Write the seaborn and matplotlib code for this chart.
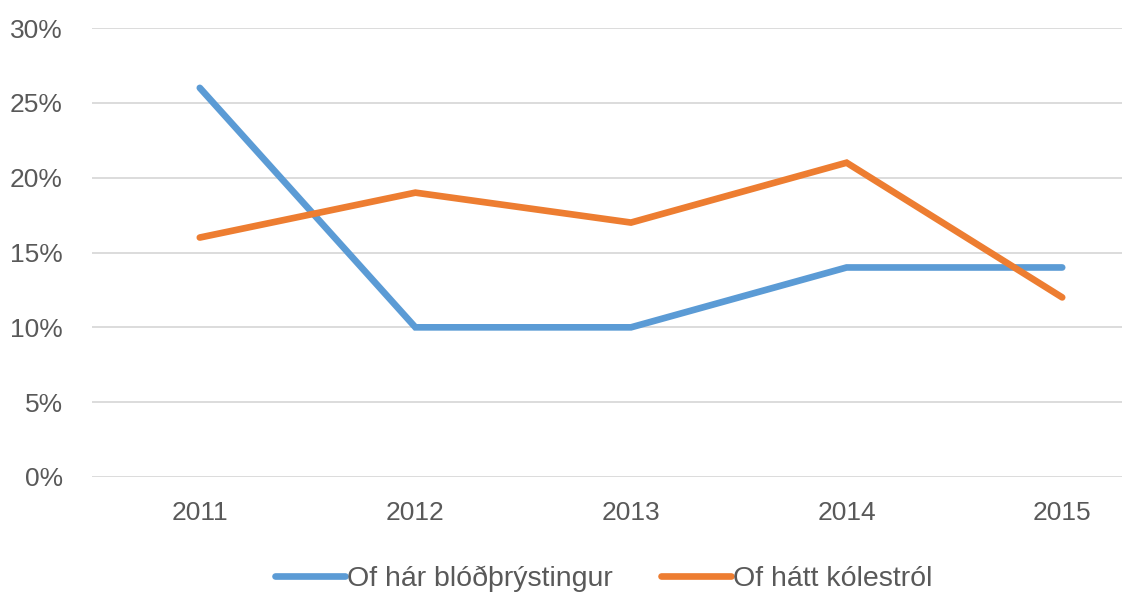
import matplotlib
matplotlib.use("Agg")
import matplotlib.pyplot as plt
import seaborn as sns
import pandas as pd
from matplotlib.ticker import FuncFormatter, MultipleLocator
from matplotlib.lines import Line2D

years = ["2011", "2012", "2013", "2014", "2015"]
blood_pressure = [26, 10, 10, 14, 14]
cholesterol = [16, 19, 17, 21, 12]
series_names = ["Of hár blóðþrýstingur", "Of hátt kólestról"]
colors = ["#5B9BD5", "#ED7D31"]

sns.set_theme(style="white")
plt.rcParams["font.family"] = ["Liberation Sans", "DejaVu Sans"]

rows = []
for name, vals in zip(series_names, [blood_pressure, cholesterol]):
    for i, (y, v) in enumerate(zip(years, vals)):
        rows.append({"idx": i, "year": y, "value": v, "series": name})
df = pd.DataFrame(rows)

fig = plt.figure(figsize=(11.22, 5.96), dpi=100)
ax = fig.add_axes([92 / 1122, 119 / 596, 1078 / 1122, 449 / 596])

sns.lineplot(data=df, x="idx", y="value", hue="series", palette=colors,
             linewidth=4.8, ax=ax, legend=False, sort=False,
             solid_capstyle="round", solid_joinstyle="miter")

ax.set_xlim(-0.5, 4.5)
ax.set_ylim(0, 30)
ax.set_xticks(range(len(years)))
ax.set_xticklabels(years)
ax.yaxis.set_major_locator(MultipleLocator(5))
ax.yaxis.set_major_formatter(FuncFormatter(lambda v, p: f"{int(v)}%"))
ax.set_xlabel("")
ax.set_ylabel("")
ax.grid(axis="y", color="#D9D9D9", linewidth=1.3)
ax.grid(axis="x", visible=False)
ax.set_axisbelow(True)
for s in ax.spines.values():
    s.set_visible(False)
ax.tick_params(axis="both", length=0, labelsize=19, labelcolor="#595959")
ax.tick_params(axis="y", pad=21)
ax.tick_params(axis="x", pad=17)

handles = [Line2D([0], [0], color=c, linewidth=4.8, solid_capstyle="round") for c in colors]
fig.legend(handles, series_names, loc="center", bbox_to_anchor=(604 / 1122, 17 / 596),
           ncol=2, frameon=False, fontsize=20.5, handlelength=2.45, handletextpad=0.08,
           columnspacing=1.7, labelcolor="#595959", borderpad=0.1)

fig.savefig("out.png", dpi=100)
